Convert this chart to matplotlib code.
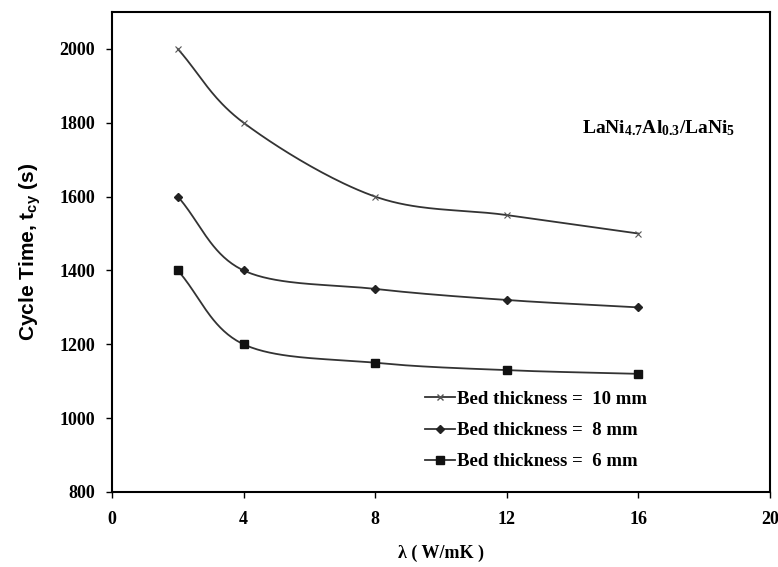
import numpy as np
import matplotlib
matplotlib.use("Agg")
import matplotlib.pyplot as plt

lam = [2, 4, 8, 12, 16]
t10 = [2000, 1800, 1600, 1550, 1500]
t8 = [1600, 1400, 1350, 1320, 1300]
t6 = [1400, 1200, 1150, 1130, 1120]
labels = ["Bed thickness =  10 mm", "Bed thickness =  8 mm", "Bed thickness =  6 mm"]
xticks = [0, 4, 8, 12, 16, 20]
yticks = [800, 1000, 1200, 1400, 1600, 1800, 2000]

plt.rcParams['mathtext.fontset'] = 'custom'
plt.rcParams['mathtext.rm'] = 'Liberation Serif:bold'
plt.rcParams['mathtext.bf'] = 'Liberation Serif:bold'
plt.rcParams['mathtext.it'] = 'Liberation Serif:bold'
plt.rcParams['mathtext.sf'] = 'Liberation Sans:bold'


def smooth(x, y, n=40):
    # Catmull-Rom style smoothing (like Excel smoothed line) through the points
    x = np.asarray(x, float); y = np.asarray(y, float)
    px = np.concatenate([[2 * x[0] - x[1]], x, [2 * x[-1] - x[-2]]])
    py = np.concatenate([[2 * y[0] - y[1]], y, [2 * y[-1] - y[-2]]])
    xs, ys = [], []
    for i in range(1, len(px) - 2):
        t = np.linspace(0, 1, n)
        p0, p1, p2, p3 = [np.array([px[j], py[j]]) for j in (i - 1, i, i + 1, i + 2)]
        tension = 1 / 6
        c1 = p1 + (p2 - p0) * tension
        c2 = p2 - (p3 - p1) * tension
        b = ((1 - t) ** 3)[:, None] * p1 + (3 * (1 - t) ** 2 * t)[:, None] * c1 + \
            (3 * (1 - t) * t ** 2)[:, None] * c2 + (t ** 3)[:, None] * p2
        xs.extend(b[:, 0]); ys.extend(b[:, 1])
    return xs, ys


fig = plt.figure(figsize=(7.78, 5.67), dpi=100)
ax = fig.add_axes([112 / 778, 75 / 567, 658 / 778, 480 / 567])

series = [(t10, 'x', 5, 0.8, '#555555'), (t8, 'D', 4, 1, '#222222'), (t6, 's', 6, 1, '#111111')]
for (ys, m, ms, mew, mc), lab in zip(series, labels):
    sx, sy = smooth(lam, ys)
    ax.plot(sx, sy, color='#333333', lw=1.3)
    ax.plot(lam, ys, linestyle='none', marker=m, ms=ms, color=mc, mew=mew)
    ax.plot([], [], color='#333333', lw=1.3, marker=m, ms=ms, mfc=mc, mec=mc, label=lab)

ax.set_xlim(0, 20)
ax.set_ylim(800, 2100)
ax.set_xticks(xticks)
ax.set_yticks(yticks)
for s in ax.spines.values():
    s.set_linewidth(1.5)
ax.tick_params(direction='out', length=4, width=1, labelsize=13)
for lbl in ax.get_xticklabels() + ax.get_yticklabels():
    lbl.set_fontfamily('Liberation Serif')
    lbl.set_fontweight('bold')
ax.tick_params(axis='x', pad=10)
ax.tick_params(axis='y', pad=8)

ax.set_xlabel('λ ( W/mK )', fontfamily='Liberation Serif', fontweight='bold', fontsize=13, labelpad=12)
ax.set_ylabel(r'Cycle Time, t$_{\mathsf{cy}}$ (s)', fontfamily='Liberation Sans', fontweight='bold', fontsize=15, labelpad=12)

ax.text(0.714, 0.758, r'LaNi$_{4.7}$Al$_{0.3}$/LaNi$_{5}$', transform=ax.transAxes,
        fontfamily='Liberation Serif', fontweight='bold', fontsize=14, va='center')

leg = ax.legend(loc='lower left', bbox_to_anchor=(0.45, 0.01), frameon=False,
                prop={'family': 'Liberation Serif', 'weight': 'bold', 'size': 13.5},
                handlelength=1.6, handletextpad=0.1, labelspacing=0.75)

fig.savefig('out.png', dpi=100)
